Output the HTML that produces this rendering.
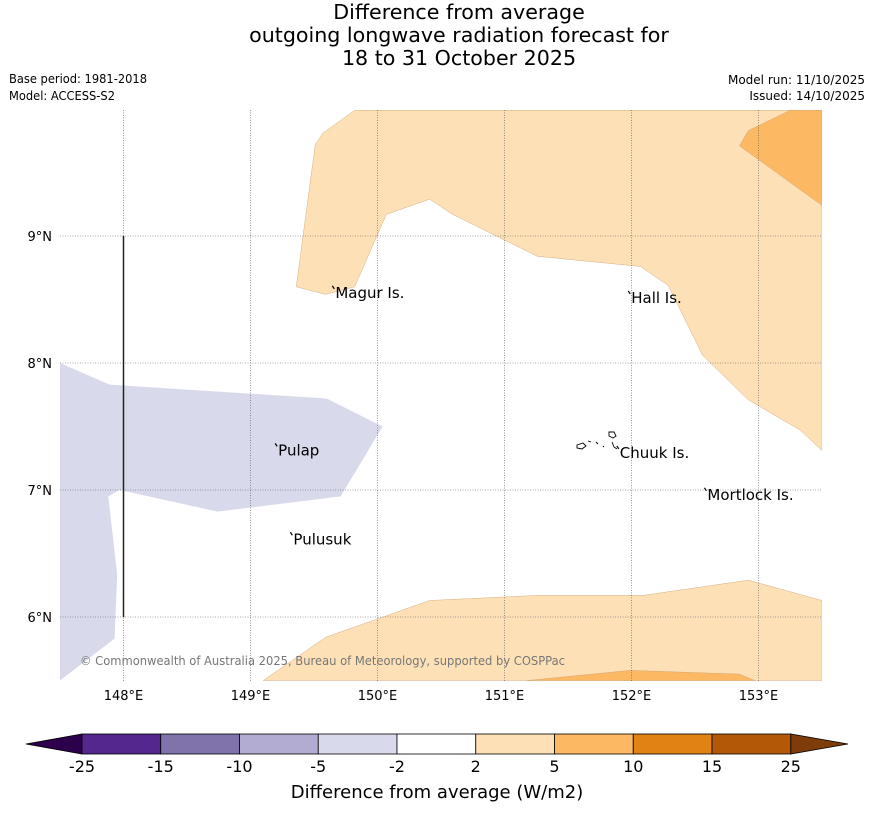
<!DOCTYPE html>
<html><head><meta charset="utf-8"><style>
body{margin:0;background:#fff;width:873px;height:816px;overflow:hidden;font-family:"Liberation Sans","DejaVu Sans",sans-serif}
svg{display:block}
</style></head><body>
<svg id="chart" width="873" height="816" viewBox="0 0 873 816" xmlns="http://www.w3.org/2000/svg">
<g font-family="DejaVu Sans, sans-serif" font-size="20.6" text-anchor="middle" fill="#000">
<text x="459" y="19">Difference from average</text>
<text x="459" y="42">outgoing longwave radiation forecast for</text>
<text x="459" y="65">18 to 31 October 2025</text>
</g>
<g font-size="12" font-family="DejaVu Sans, sans-serif">
<text x="9" y="83" textLength="138" lengthAdjust="spacingAndGlyphs">Base period: 1981-2018</text>
<text x="9" y="100" textLength="106" lengthAdjust="spacingAndGlyphs">Model: ACCESS-S2</text>
<text x="865" y="84" text-anchor="end">Model run: 11/10/2025</text>
<text x="865" y="100" text-anchor="end">Issued: 14/10/2025</text>
</g>
<g id="map"></g>
<g id="cbar"></g>
<text x="437" y="798" text-anchor="middle" font-size="18" font-family="DejaVu Sans, sans-serif">Difference from average (W/m2)</text>
</svg>
<script>
const lonTicks=[148,149,150,151,152,153];
const latTicks=[6,7,8,9];
const purpleRegion=[[147.5,8.0],[147.89,7.83],[149.6,7.72],[150.04,7.5],[149.71,6.95],[148.74,6.83],[147.97,7.0],[147.88,6.95],[147.95,6.34],[147.93,5.83],[147.5,5.5]];
const orangeTop=[[149.82,9.99],[149.57,9.81],[149.51,9.72],[149.36,8.6],[149.59,8.54],[149.82,8.6],[150.07,9.17],[150.41,9.29],[150.59,9.17],[151.26,8.84],[152.07,8.76],[152.29,8.61],[152.56,8.06],[152.92,7.71],[153.33,7.47],[153.5,7.31],[153.5,9.99]];
const orangeTopDark=[[153.25,9.99],[152.92,9.83],[152.85,9.71],[153.5,9.24],[153.5,9.99]];
const orangeBottom=[[149.1,5.5],[149.59,5.84],[150.41,6.13],[151.26,6.17],[152.09,6.17],[152.92,6.29],[153.5,6.13],[153.5,5.5]];
const orangeBottomDark=[[151.18,5.5],[151.99,5.58],[152.85,5.55],[152.97,5.5]];
const places=["Magur Is.","Hall Is.","Pulap","Chuuk Is.","Mortlock Is.","Pulusuk"];
const placeLon=[149.66,151.99,149.21,151.9,152.59,149.33];
const placeLat=[8.56,8.52,7.32,7.3,6.97,6.62];
const cbLevels=["-25","-15","-10","-5","-2","2","5","10","15","25"];
const cbColors=["#54278f","#8073ac","#b2abd2","#d8daeb","#ffffff","#fee0b6","#fdb863","#e08214","#b35806"];
const cbLow="#2d004b", cbHigh="#7f3b08";

const NS="http://www.w3.org/2000/svg";
const X0=60,X1=822,Y0=110,Y1=681;
const xs=lon=>60+(lon-147.5)*127;
const ys=lat=>363-(lat-8)*127;
function mk(tag,attrs,parent){const e=document.createElementNS(NS,tag);for(const k in attrs)e.setAttribute(k,attrs[k]);parent.appendChild(e);return e;}
const map=document.getElementById('map');
const defs=mk('defs',{},map);
const cp=mk('clipPath',{id:'clip'},defs);
mk('rect',{x:X0,y:Y0,width:X1-X0,height:Y1-Y0},cp);
const g=mk('g',{'clip-path':'url(#clip)'},map);
function poly(pts,fill,name){
  const p=mk('polygon',{points:pts.map(d=>xs(d[0])+','+ys(d[1])).join(' '),fill:fill,stroke:'#c9a070','stroke-width':'0.4'},g);
  
  
}
poly(purpleRegion,'#d8daeb','region-minus5');
g.lastChild.setAttribute('stroke','none');
poly(orangeTop,'#fee0b6','region-plus2-north');
poly(orangeTopDark,'#fdb863','region-plus5-northeast');
poly(orangeBottom,'#fee0b6','region-plus2-south');
poly(orangeBottomDark,'#fdb863','region-plus5-south');
lonTicks.forEach(l=>{
  const ln=mk('line',{x1:xs(l),x2:xs(l),y1:Y0,y2:Y1,stroke:'#555','stroke-width':'0.6','stroke-dasharray':'1,1.5'},g);
  
  
  const t=mk('text',{x:xs(l),y:700,'text-anchor':'middle','font-size':'13','font-family':'DejaVu Sans, sans-serif'},map);
  t.textContent=l+'°E';
  
  
});
latTicks.forEach(l=>{
  const ln=mk('line',{x1:X0,x2:X1,y1:ys(l),y2:ys(l),stroke:'#555','stroke-width':'0.6','stroke-dasharray':'1,1.5'},g);
  
  
  const t=mk('text',{x:52,y:ys(l)+5,'text-anchor':'end','font-size':'13','font-family':'DejaVu Sans, sans-serif'},map);
  t.textContent=l+'°N';
  
  
});
const vl=mk('line',{x1:xs(148),x2:xs(148),y1:ys(9),y2:ys(6),stroke:'#222','stroke-width':'1.5'},g);


places.forEach((p,i)=>{
  const m=mk('path',{d:'M'+(xs(placeLon[i])-2)+','+(ys(placeLat[i])-6)+' l2,3',stroke:'#000','stroke-width':'1.2',fill:'none'},g);
  
  
  const t=mk('text',{x:xs(placeLon[i])+1,y:ys(placeLat[i])+6,'font-size':'15','font-family':'DejaVu Sans, sans-serif'},g);
  t.textContent=p;
  
  
});
const lag=mk('path',{d:'M577,445 l6,-2 l3,3 l-4,3 l-5,-1z M588,441 l3,1 M596,442 l2,2 M603,446 l1,1 M609,432 l5,0 l2,4 l-3,2 l-4,-2z M612,442 l2,5 l3,2',stroke:'#000','stroke-width':'0.9',fill:'none'},g);


const cr=mk('text',{x:80,y:665,'font-size':'12',fill:'#777','font-family':'DejaVu Sans, sans-serif','textLength':'485','lengthAdjust':'spacingAndGlyphs'},g);
cr.textContent='© Commonwealth of Australia 2025, Bureau of Meteorology, supported by COSPPac';



const cb=document.getElementById('cbar');
const CB0=82,CBW=78.75,CBY=734,CBH=20;
const lt=mk('polygon',{points:`26,${CBY+10} ${CB0},${CBY} ${CB0},${CBY+CBH}`,fill:cbLow,stroke:'#000','stroke-width':'0.8'},cb);


const xEnd=CB0+CBW*cbColors.length;
const rt=mk('polygon',{points:`${xEnd},${CBY} ${xEnd},${CBY+CBH} 848,${CBY+10}`,fill:cbHigh,stroke:'#000','stroke-width':'0.8'},cb);


cbColors.forEach((c,i)=>{
  const r=mk('rect',{x:CB0+CBW*i,y:CBY,width:CBW,height:CBH,fill:c,stroke:'#000','stroke-width':'0.8'},cb);
  
  
});
cbLevels.forEach((l,i)=>{
  const t=mk('text',{x:CB0+CBW*i,y:772,'text-anchor':'middle','font-size':'16','font-family':'DejaVu Sans, sans-serif'},cb);
  t.textContent=l;
  
  
});
</script>
</body></html>
